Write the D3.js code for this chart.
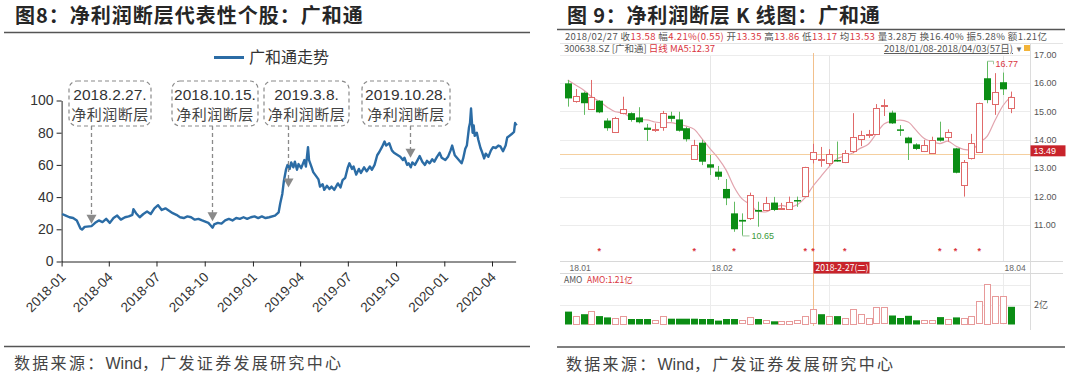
<!DOCTYPE html>
<html>
<head>
<meta charset="utf-8">
<script src="https://cdn.jsdelivr.net/npm/d3@7"></script>
<style>
body { margin: 0; background: #fff; }
text { font-family: "Liberation Sans", Arial, "Noto Sans CJK SC", sans-serif; }
.cn { font-family: "Noto Sans CJK SC", sans-serif; }
</style>
</head>
<body>
<svg id="chart" width="1080" height="377"></svg>
<script>
// ---- left panel: 广和通走势 ----
const trendDates = [
  "2018-01-02","2018-01-09","2018-01-16","2018-01-23","2018-01-30","2018-02-06","2018-02-09","2018-02-14","2018-02-27",
  "2018-03-06","2018-03-13","2018-03-20","2018-03-27","2018-04-03","2018-04-10","2018-04-17","2018-04-24","2018-05-02",
  "2018-05-09","2018-05-16","2018-05-18","2018-05-23","2018-05-30","2018-06-06","2018-06-13","2018-06-20","2018-06-27",
  "2018-07-04","2018-07-11","2018-07-18","2018-07-25","2018-08-01","2018-08-08","2018-08-15","2018-08-22","2018-08-29",
  "2018-09-05","2018-09-12","2018-09-19","2018-09-26","2018-10-08","2018-10-12","2018-10-16","2018-10-19","2018-10-26",
  "2018-11-02","2018-11-09","2018-11-16","2018-11-23","2018-11-30","2018-12-07","2018-12-14","2018-12-21","2018-12-28",
  "2019-01-04","2019-01-11","2019-01-18","2019-01-25","2019-02-01","2019-02-12","2019-02-19","2019-02-22","2019-02-26",
  "2019-03-01","2019-03-05","2019-03-08","2019-03-12","2019-03-15","2019-03-19","2019-03-22","2019-03-26","2019-03-29",
  "2019-04-03","2019-04-09","2019-04-12","2019-04-16","2019-04-18","2019-04-23","2019-04-26","2019-05-06","2019-05-09",
  "2019-05-14","2019-05-17","2019-05-22","2019-05-27","2019-05-31","2019-06-05","2019-06-12","2019-06-17","2019-06-21",
  "2019-06-26","2019-07-01","2019-07-04","2019-07-09","2019-07-12","2019-07-17","2019-07-22","2019-07-26","2019-08-01",
  "2019-08-06","2019-08-12","2019-08-16","2019-08-21","2019-08-26","2019-08-30","2019-09-04","2019-09-09","2019-09-12",
  "2019-09-18","2019-09-23","2019-09-27","2019-10-09","2019-10-14","2019-10-17","2019-10-22","2019-10-25","2019-10-29",
  "2019-11-01","2019-11-06","2019-11-11","2019-11-15","2019-11-20","2019-11-25","2019-11-29","2019-12-04","2019-12-09",
  "2019-12-13","2019-12-18","2019-12-23","2019-12-27","2020-01-03","2020-01-08","2020-01-13","2020-01-16","2020-01-21",
  "2020-02-03","2020-02-06","2020-02-10","2020-02-13","2020-02-17","2020-02-19","2020-02-21","2020-02-24","2020-02-26",
  "2020-02-28","2020-03-03","2020-03-06","2020-03-10","2020-03-13","2020-03-17","2020-03-20","2020-03-25","2020-03-30",
  "2020-04-03","2020-04-08","2020-04-13","2020-04-17","2020-04-22","2020-04-27","2020-04-30","2020-05-08","2020-05-13",
  "2020-05-15","2020-05-18"
];
const trendValues = [
  29.5,28.5,27.5,27.0,25.5,20.5,19.8,21.5,22.0,
  24.0,25.5,24.5,26.5,24.0,27.0,28.5,26.0,27.5,
  28.0,29.0,32.5,30.0,27.5,29.5,31.0,29.5,33.0,
  35.0,32.0,33.0,31.5,30.0,29.0,27.5,27.0,28.0,
  27.5,26.0,26.5,25.5,24.0,22.5,21.0,23.0,24.0,
  23.5,25.5,26.5,25.5,27.0,26.5,27.5,26.5,27.5,
  28.0,27.0,28.0,27.0,27.5,28.5,30.5,36.0,42.0,
  50.0,57.0,60.0,57.5,61.5,58.5,62.0,57.0,60.5,
  58.0,63.0,59.0,71.0,63.0,58.5,55.5,51.0,46.5,
  48.0,44.5,47.0,45.0,46.5,44.5,48.5,46.0,50.5,
  52.0,58.5,61.0,57.5,59.0,54.0,57.5,55.0,58.5,
  56.0,59.0,57.0,60.0,66.0,68.0,71.0,74.5,72.0,
  73.5,69.0,67.5,65.0,63.0,64.5,60.0,61.0,58.5,
  61.5,60.0,63.0,65.5,62.0,60.0,62.5,61.0,63.5,
  62.0,65.0,67.5,64.5,63.0,65.0,69.0,72.0,66.0,
  61.0,64.0,70.0,72.0,83.0,86.0,95.0,80.0,84.5,
  78.0,80.0,75.5,70.5,68.0,64.0,67.0,65.0,69.0,
  71.0,70.5,72.0,71.5,68.5,72.0,77.0,79.0,80.5,
  86.0,84.5
];
const trendTicks = ["2018-01-01","2018-04-01","2018-07-01","2018-10-01","2019-01-01","2019-04-01",
  "2019-07-01","2019-10-01","2020-01-01","2020-04-01"];
const trendYTicks = [0, 20, 40, 60, 80, 100];
const noteDates = ["2018-02-27","2018-10-15","2019-03-08","2019-10-28"];
const noteLabels = ["2018.2.27.","2018.10.15.","2019.3.8.","2019.10.28."];
const noteTipValues = [23.5, 25, 46, 64.5];

// ---- right panel: K 线 2018/01/08-2018/04/03 ----
const kDates = [
  "01-08","01-09","01-10","01-11","01-12","01-15","01-16","01-17","01-18","01-19","01-22","01-23","01-24","01-25",
  "01-26","01-29","01-30","01-31","02-01","02-02","02-05","02-06","02-07","02-08","02-09","02-12","02-13","02-14",
  "02-22","02-23","02-26","02-27","02-28","03-01","03-02","03-05","03-06","03-07","03-08","03-09","03-12","03-13",
  "03-14","03-15","03-16","03-19","03-20","03-21","03-22","03-23","03-26","03-27","03-28","03-29","03-30","04-02","04-03"
];
const kOpen = [15.99,15.40,15.66,15.11,15.38,14.68,14.25,14.94,14.94,14.79,14.43,14.35,14.43,14.85,14.72,14.41,13.33,13.90,
  13.14,12.88,12.27,11.41,11.18,11.24,11.53,11.55,11.79,11.55,11.59,11.88,12.02,13.35,13.27,13.17,13.29,13.23,13.62,14.02,
  14.17,14.21,15.20,14.96,14.37,14.08,13.84,13.61,13.55,14.08,14.11,13.70,12.41,13.35,13.58,16.17,15.26,16.03,15.11];
const kHigh = [16.11,15.79,15.70,16.11,15.40,14.76,14.81,15.52,14.97,15.15,14.56,14.58,15.02,14.99,14.99,14.46,14.00,14.00,
  13.47,13.08,12.62,11.82,11.41,12.14,11.82,11.99,11.99,11.78,12.00,12.00,13.05,13.86,13.75,13.67,13.94,13.64,14.94,14.32,
  14.35,15.26,15.43,15.03,14.52,14.11,13.88,14.00,14.11,14.64,14.37,13.72,13.29,14.21,15.31,16.77,16.35,16.37,15.70];
const kLow = [15.17,15.31,14.88,15.05,14.94,14.32,14.24,14.90,14.64,14.58,13.96,14.28,14.32,14.64,14.29,13.94,13.29,13.11,
  12.76,12.59,11.70,10.76,10.65,11.18,10.94,11.53,11.49,11.53,11.55,11.64,12.00,13.17,13.05,13.08,13.23,13.18,13.53,13.78,
  14.07,14.17,14.84,14.56,14.14,13.29,13.64,13.57,13.53,13.94,13.94,12.82,12.00,13.31,13.56,15.29,14.88,15.58,14.94];
const kClose = [15.46,15.56,15.29,15.52,14.97,14.41,14.76,15.08,14.70,14.62,14.35,14.39,14.94,14.74,14.32,14.02,13.82,13.23,
  13.02,12.70,11.94,10.85,11.12,12.06,11.47,11.79,11.53,11.60,11.82,11.84,13.03,13.58,13.31,13.49,13.24,13.53,14.11,14.17,
  14.21,15.11,15.24,14.58,14.32,13.88,13.68,13.82,14.00,13.97,14.29,12.84,13.23,13.88,15.29,15.40,15.70,15.78,15.50];
const priorCloses = [16.45, 16.15, 16.72, 15.77];
const kAmount = [1.29,0.87,1.03,1.35,0.84,0.71,0.65,0.90,0.55,0.55,0.55,0.42,0.90,0.58,0.58,0.58,0.58,0.55,0.55,0.39,
  0.55,0.55,0.42,0.77,0.55,0.42,0.32,0.39,0.39,0.42,0.87,1.52,1.03,0.90,0.84,0.65,1.55,1.03,0.65,1.71,1.71,0.90,
  0.65,0.87,0.42,0.42,0.42,0.74,0.58,0.71,0.65,0.87,2.32,4.10,2.81,2.81,1.77];
const starDays = ["01-12","01-30","02-06","02-26","02-27","03-05","03-21","03-23","03-28"];
const priceTicks = [11, 12, 13, 14, 15, 16, 17];
const monthStarts = [["01-08","18.01"],["02-01","18.02"],["03-01","18.03"],["04-02","18.04"]];
const amountTicks = [2, 4];
const focusDay = "02-27";
const markPrice = 13.49;

const RED = "#e06a6a", GREEN = "#0b8d14", GREEN_WICK = "#62bb62";
const svg = d3.select("#chart");
svg.append("rect").attr("width", 1080).attr("height", 377).attr("fill", "#fff");

function sourceNote(g, x0, yb) {
  const t = g.append("text").attr("class", "cn").attr("x", x0).attr("y", yb)
    .attr("font-size", 16).attr("fill", "#444");
  t.append("tspan").attr("letter-spacing", 2.3).text("数据来源：");
  t.append("tspan").attr("font-family", "Liberation Sans, Arial, sans-serif").text("Wind");
  t.append("tspan").attr("letter-spacing", 2.3).text("，广发证券发展研究中心");
}

// ================= left panel =================
const left = svg.append("g");
left.append("text").attr("class", "cn").attr("x", 15).attr("y", 23)
  .attr("font-size", 20).attr("font-weight", "bold").attr("fill", "#262626")
  .attr("letter-spacing", 1)
  .text("图8：净利润断层代表性个股：广和通");
left.append("line").attr("x1", 4).attr("x2", 530).attr("y1", 32.5).attr("y2", 32.5)
  .attr("stroke", "#555").attr("stroke-width", 1.5);
left.append("line").attr("x1", 4).attr("x2", 530).attr("y1", 346.5).attr("y2", 346.5)
  .attr("stroke", "#555").attr("stroke-width", 1.5);
sourceNote(left, 14, 369);

const parse = d3.timeParse("%Y-%m-%d");
const trend = trendDates.map((d, i) => ({ date: parse(d), v: trendValues[i] }));
const x = d3.scaleTime().domain([parse("2018-01-01"), parse("2020-05-16")]).range([61.6, 515.6]);
const y = d3.scaleLinear().domain([0, 100]).range([261.5, 100.5]);

const xAxis = left.append("g").attr("transform", "translate(0,261.5)")
  .call(d3.axisBottom(x).tickValues(trendTicks.map(parse)).tickFormat(d3.timeFormat("%Y-%m"))
    .tickSize(5).tickSizeOuter(0));
xAxis.selectAll("text").attr("x", 0).attr("y", 0).attr("dy", "0.35em")
  .attr("transform", "translate(1,13) rotate(-45)").style("text-anchor", "end")
  .attr("font-size", 13.5).attr("fill", "#333");
const yAxis = left.append("g").attr("transform", "translate(61.6,0)")
  .call(d3.axisLeft(y).tickValues(trendYTicks).tickSize(5).tickSizeOuter(0));
yAxis.selectAll("text").attr("font-size", 14).attr("fill", "#333").attr("x", -8);
left.selectAll(".domain, .tick line").attr("stroke", "#222");
left.selectAll(".tick text").attr("font-family", "Liberation Sans, Arial, sans-serif");

// legend
left.append("line").attr("x1", 214).attr("x2", 244).attr("y1", 57.5).attr("y2", 57.5)
  .attr("stroke", "#2b6ca5").attr("stroke-width", 3);
left.append("text").attr("class", "cn").attr("x", 249).attr("y", 63)
  .attr("font-size", 16).attr("fill", "#333").text("广和通走势");

// price line
left.append("path").datum(trend)
  .attr("fill", "none").attr("stroke", "#2b6ca5").attr("stroke-width", 2.4)
  .attr("stroke-linejoin", "round")
  .attr("d", d3.line().x(d => x(d.date)).y(d => y(d.v)));

// annotations (box layout)
const noteBoxes = [[69, 82], [172, 86], [264, 85], [362, 88]];
noteDates.forEach((d, i) => {
  const ax = Math.round(x(parse(d))) + 0.5;
  const tip = y(noteTipValues[i]);
  left.append("line").attr("x1", ax).attr("x2", ax).attr("y1", 126).attr("y2", tip - 8)
    .attr("stroke", "#8a8a8a").attr("stroke-width", 1.3).attr("stroke-dasharray", "4,3");
  left.append("path")
    .attr("d", `M${ax - 5},${tip - 9}L${ax + 5},${tip - 9}L${ax},${tip}Z`)
    .attr("fill", "#8a8a8a");
  const [bx, bw] = noteBoxes[i];
  left.append("rect").attr("x", bx).attr("y", 81).attr("width", bw).attr("height", 45)
    .attr("rx", 8).attr("fill", "#fff").attr("stroke", "#8a8a8a")
    .attr("stroke-width", 1.2).attr("stroke-dasharray", "4,3");
  left.append("text").attr("x", bx + bw / 2).attr("y", 100).attr("text-anchor", "middle")
    .attr("font-size", 15.5).attr("fill", "#333").text(noteLabels[i]);
  left.append("text").attr("class", "cn").attr("x", bx + bw / 2).attr("y", 120)
    .attr("text-anchor", "middle").attr("font-size", 15).attr("letter-spacing", 0.5)
    .attr("fill", "#444").text("净利润断层");
});

// ================= right panel =================
const right = svg.append("g");
right.append("text").attr("class", "cn").attr("x", 567).attr("y", 22.5)
  .attr("font-size", 20).attr("font-weight", "bold").attr("fill", "#262626")
  .attr("letter-spacing", 0.8)
  .text("图 9：净利润断层 K 线图：广和通");
right.append("line").attr("x1", 557).attr("x2", 1065).attr("y1", 29.5).attr("y2", 29.5)
  .attr("stroke", "#555").attr("stroke-width", 1.5);
right.append("line").attr("x1", 557).attr("x2", 1065).attr("y1", 347).attr("y2", 347)
  .attr("stroke", "#555").attr("stroke-width", 1.5);
sourceNote(right, 566, 370);

// header rows of the screenshot
const info = right.append("text").attr("class", "cn").attr("x", 565).attr("y", 40)
  .attr("font-size", 9.5).attr("textLength", 482).attr("lengthAdjust", "spacing");
[["2018/02/27 收", 0], ["13.58", 1], [" 幅", 0], ["4.21%(0.55)", 1], [" 开", 0], ["13.35", 1],
 [" 高", 0], ["13.86", 1], [" 低", 0], ["13.17", 1], [" 均", 0], ["13.53", 1],
 [" 量3.28万 换16.40% 振5.28% 额1.21亿", 0]].forEach(([t, r]) => {
  info.append("tspan").attr("fill", r ? "#d9363e" : "#555").text(t);
});
right.append("line").attr("x1", 560).attr("x2", 1063).attr("y1", 43.5).attr("y2", 43.5)
  .attr("stroke", "#e4e4e4");
const row2 = right.append("text").attr("class", "cn").attr("x", 564).attr("y", 52).attr("font-size", 9.5);
row2.append("tspan").attr("fill", "#555").text("300638.SZ [广和通] ");
row2.append("tspan").attr("fill", "#d9363e").text("日线 MA5:12.37");
right.append("text").attr("class", "cn").attr("x", 1013).attr("y", 52).attr("text-anchor", "end")
  .attr("font-size", 9.5).attr("fill", "#555").attr("text-decoration", "underline")
  .text("2018/01/08-2018/04/03(57日)");
right.append("text").attr("x", 1015).attr("y", 52).attr("font-size", 8).attr("fill", "#666").text("▼");
right.append("rect").attr("x", 1024).attr("y", 45).attr("width", 6).attr("height", 6)
  .attr("fill", "#f2b43a");

const kx = d3.scalePoint().domain(kDates).range([567.7, 1011]);
const ky = d3.scaleLinear().domain([11, 17]).range([225, 54.7]);
const vy = d3.scaleLinear().domain([0, 4]).range([324.5, 284.5]);
const px = d => Math.round(kx(d)) + 0.5;
const plotL = 560, plotR = 1030.5;

// grid
right.selectAll(".hgrid").data(priceTicks).join("line")
  .attr("x1", plotL).attr("x2", plotR).attr("y1", d => Math.round(ky(d)) + 0.5).attr("y2", d => Math.round(ky(d)) + 0.5)
  .attr("stroke", "#ececec");
right.selectAll(".vgrid").data(monthStarts.slice(1)).join("line")
  .attr("x1", d => px(d[0])).attr("x2", d => px(d[0])).attr("y1", 56).attr("y2", 261.5)
  .attr("stroke", "#e6e6e6");
right.selectAll(".vgrid2").data(monthStarts.slice(1)).join("line")
  .attr("x1", d => px(d[0])).attr("x2", d => px(d[0])).attr("y1", 274).attr("y2", 324.5)
  .attr("stroke", "#ececec");
right.selectAll(".agrid").data(amountTicks).join("line")
  .attr("x1", plotL).attr("x2", plotR).attr("y1", d => Math.round(vy(d)) + 0.5).attr("y2", d => Math.round(vy(d)) + 0.5)
  .attr("stroke", "#ececec");
right.append("line").attr("x1", plotR).attr("x2", plotR).attr("y1", 44).attr("y2", 330).attr("stroke", "#dcdcdc");
right.append("line").attr("x1", plotL).attr("x2", 1063).attr("y1", 261.5).attr("y2", 261.5).attr("stroke", "#d8d8d8");
right.append("line").attr("x1", plotL).attr("x2", 1063).attr("y1", 273.5).attr("y2", 273.5).attr("stroke", "#d8d8d8");

// price axis labels
right.selectAll(".ptick").data(priceTicks).join("text")
  .attr("x", 1034).attr("y", d => ky(d)).attr("dy", "0.35em")
  .attr("font-size", 9).attr("fill", "#555").text(d => d.toFixed(2));
right.selectAll(".atick").data(amountTicks.slice(0, 1)).join("text")
  .attr("class", "cn").attr("x", 1034).attr("y", d => vy(d)).attr("dy", "0.35em")
  .attr("font-size", 9).attr("fill", "#555").text(d => d + "亿");

// crosshair
const fx = px(focusDay);
right.append("line").attr("x1", fx).attr("x2", fx).attr("y1", 53).attr("y2", 326)
  .attr("stroke", "#f2c08c");
right.append("line").attr("x1", plotL).attr("x2", plotR)
  .attr("y1", Math.round(ky(markPrice)) + 0.5).attr("y2", Math.round(ky(markPrice)) + 0.5)
  .attr("stroke", "#f5cf9f");
right.append("rect").attr("x", plotR).attr("y", ky(markPrice) - 9).attr("width", 35).attr("height", 11)
  .attr("fill", "#c8232b");
right.append("text").attr("x", plotR + 3).attr("y", ky(markPrice) - 3.5).attr("dy", "0.35em")
  .attr("font-size", 9).attr("fill", "#fff").text(markPrice.toFixed(2));

// MA5
const allCloses = priorCloses.concat(kClose);
const ma5 = kClose.map((c, i) => ({ d: kDates[i], v: d3.mean(allCloses.slice(i, i + 5)) }));
right.append("path").datum(ma5).attr("fill", "none").attr("stroke", "#e2a4ae").attr("stroke-width", 1.2)
  .attr("d", d3.line().x(d => kx(d.d)).y(d => ky(d.v)).curve(d3.curveMonotoneX));

// candles
kDates.forEach((d, i) => {
  const up = kClose[i] >= kOpen[i];
  const cx = px(d);
  right.append("line").attr("x1", cx).attr("x2", cx)
    .attr("y1", ky(kHigh[i])).attr("y2", ky(kLow[i]))
    .attr("stroke", up ? RED : GREEN_WICK);
  const top = ky(Math.max(kOpen[i], kClose[i])), bot = ky(Math.min(kOpen[i], kClose[i]));
  if (up) {
    right.append("rect").attr("x", cx - 3).attr("y", Math.round(top) + 0.5).attr("width", 6)
      .attr("height", Math.max(1, Math.round(bot - top))).attr("fill", "#fff").attr("stroke", RED);
  } else {
    right.append("rect").attr("x", cx - 3.5).attr("y", top).attr("width", 7)
      .attr("height", Math.max(1.5, bot - top)).attr("fill", GREEN);
  }
});

// extreme labels
const hiIdx = d3.maxIndex(kHigh), loIdx = d3.minIndex(kLow);
const hx = px(kDates[hiIdx]), hy = ky(kHigh[hiIdx]);
right.append("path").attr("d", `M${hx},${hy}L${hx + 6},${hy}L${hx + 6},${hy + 3}`)
  .attr("fill", "none").attr("stroke", "#9bc79b");
right.append("text").attr("x", hx + 8).attr("y", hy + 3).attr("dy", "0.35em")
  .attr("font-size", 9).attr("fill", "#d9363e").text(kHigh[hiIdx].toFixed(2));
const lx = px(kDates[loIdx]), ly = ky(kLow[loIdx]);
right.append("path").attr("d", `M${lx},${ly}L${lx},${ly + 1}L${lx + 7},${ly + 1}`)
  .attr("fill", "none").attr("stroke", "#9bc79b");
right.append("text").attr("x", lx + 9).attr("y", ly + 1).attr("dy", "0.35em")
  .attr("font-size", 9).attr("fill", "#3a9a3a").text(kLow[loIdx].toFixed(2));

// stars
right.selectAll(".star").data(starDays).join("text")
  .attr("x", d => kx(d)).attr("y", 254).attr("text-anchor", "middle")
  .attr("font-size", 9).attr("font-weight", "bold").attr("fill", "#d9363e").text("*");

// date row (the month label under the focus tag is hidden, as in the source screenshot)
const tagW = 56;
right.selectAll(".mlab").data(monthStarts.filter(d => px(d[0]) < fx || px(d[0]) > fx + tagW)).join("text")
  .attr("x", d => px(d[0]) + 1).attr("y", 268).attr("dy", "0.35em")
  .attr("font-size", 8.5).attr("fill", "#666").text(d => d[1]);
right.append("rect").attr("x", fx).attr("y", 262).attr("width", tagW).attr("height", 11.5)
  .attr("fill", "#c8232b");
right.append("text").attr("class", "cn").attr("x", fx + 2).attr("y", 268).attr("dy", "0.35em")
  .attr("font-size", 8.5).attr("fill", "#fff").text("2018-2-27(二)");

// amount bars
right.append("text").attr("class", "cn").attr("x", 564).attr("y", 280).attr("dy", "0.35em")
  .attr("font-size", 8.5).attr("fill", "#555").text("AMO");
right.append("text").attr("class", "cn").attr("x", 587).attr("y", 280).attr("dy", "0.35em")
  .attr("font-size", 8.5).attr("fill", "#d9363e").text("AMO:1.21亿");
kDates.forEach((d, i) => {
  const up = kClose[i] >= allCloses[i + 3];
  const cx = px(d);
  const top = vy(kAmount[i]);
  if (up) {
    right.append("rect").attr("x", cx - 3).attr("y", Math.round(top) + 0.5).attr("width", 6)
      .attr("height", Math.max(1, Math.round(vy(0) - top) - 1)).attr("fill", "#fff").attr("stroke", "#e79a9a");
  } else {
    right.append("rect").attr("x", cx - 3.5).attr("y", top).attr("width", 7)
      .attr("height", vy(0) - top).attr("fill", GREEN);
  }
});
</script>
</body>
</html>
